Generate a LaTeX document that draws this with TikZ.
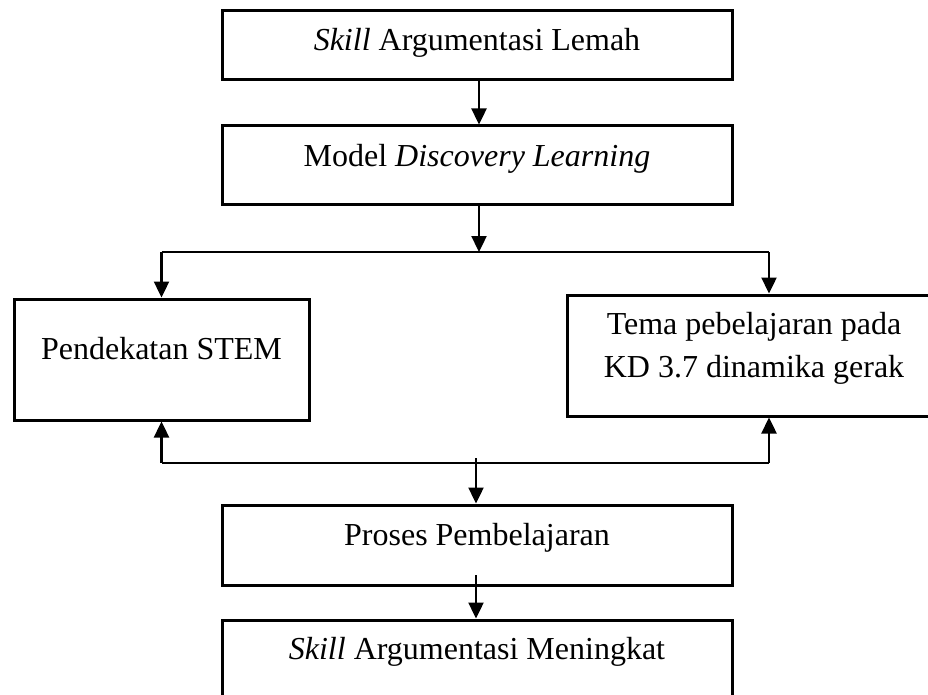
\documentclass[tikz,border=0pt]{standalone}
\usepackage{fontspec}
\setmainfont{Liberation Serif}
\usetikzlibrary{arrows.meta}
\begin{document}
\begin{tikzpicture}[x=1pt,y=-1pt,
  box/.style={draw, line width=3pt, rectangle, inner sep=0pt},
  txt/.style={font=\fontsize{32}{43}\selectfont, inner sep=0pt, anchor=base},
  arr/.style={line width=2.4pt, -{Triangle[length=16pt,width=15pt]}},
  link/.style={line width=1.8pt}]
\useasboundingbox (0,0) rectangle (928,695);
\clip (0,0) rectangle (928,695);
% boxes
\node[box, minimum width=510pt, minimum height=69pt] (b1) at (477,45.5) {};
\node[box, minimum width=510pt, minimum height=78pt] (b2) at (477,165) {};
\node[box, minimum width=295pt, minimum height=121pt] (bl) at (161.5,359.5) {};
\node[box, minimum width=375pt, minimum height=121pt] (br) at (754.5,355.5) {};
\node[box, minimum width=510pt, minimum height=80pt] (b3) at (477,545) {};
\node[box, minimum width=510pt, minimum height=90pt] (b4) at (477,665) {};
% texts
\node[txt] (t1) at (477,51) {\textit{Skill} Argumentasi Lemah};
\node[txt] (t2) at (477,167) {Model \textit{Discovery Learning}};
\node[txt] (t3) at (161.5,359) {Pendekatan STEM};
\node[txt] (t4a) at (754,334) {Tema pebelajaran pada};
\node[txt] (t4b) at (754,377) {KD 3.7 dinamika gerak};
\node[txt] (t5) at (477,545) {Proses Pembelajaran};
\node[txt] (t6) at (477,659) {\textit{Skill} Argumentasi Meningkat};
% connector points
\coordinate (split) at (479,252);
\coordinate (sl) at (161.5,252);
\coordinate (sr) at (769,252);
\coordinate (ml) at (161.5,463);
\coordinate (mr) at (769,463);
\coordinate (mc) at (476,458);
\coordinate (pc) at (476,575);
% connectors
\draw[arr] (b1.south -| split) -- (b2.north -| split);
\draw[arr] (b2.south -| split) -- (split);
\draw[link] (sl) -- (sr);
\draw[arr] (sl) -- (bl.north);
\draw[arr] (sr) -- (br.north -| sr);
\draw[link] (ml) -- (mr);
\draw[arr] (ml) -- (bl.south);
\draw[arr] (mr) -- (br.south -| mr);
\draw[arr] (mc) -- (b3.north -| mc);
\draw[arr] (pc) -- (b4.north -| pc);
\end{tikzpicture}
\end{document}
